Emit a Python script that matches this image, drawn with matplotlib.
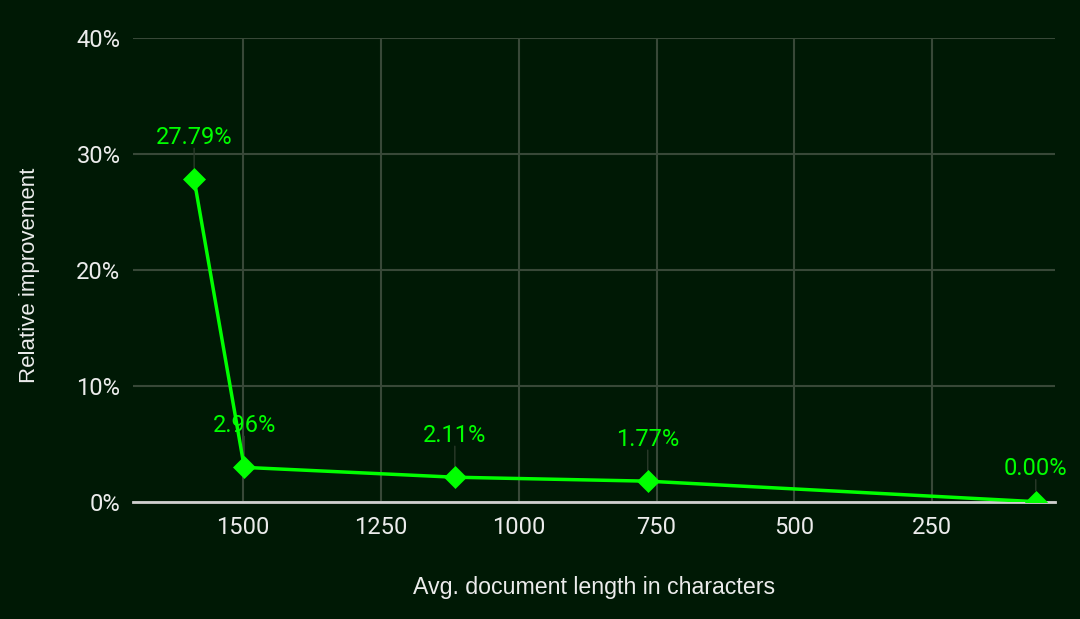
import matplotlib
matplotlib.use("Agg")
import matplotlib.pyplot as plt
from matplotlib.ticker import FuncFormatter

# Data
doc_length = [1589, 1498, 1116, 766, 62]
improvement = [27.79, 2.96, 2.11, 1.77, 0.00]
labels = ["27.79%", "2.96%", "2.11%", "1.77%", "0.00%"]
x_ticks = [1500, 1250, 1000, 750, 500, 250]
y_ticks = [0, 10, 20, 30, 40]

BG = "#001905"
GRID = "#384838"
LINE = "#00ff00"
TEXT = "#ececec"

fig = plt.figure(figsize=(10.8, 6.19), dpi=100, facecolor=BG)
ax = fig.add_axes([0.1231, 0.1895, 0.9769 - 0.1231, 0.9391 - 0.1895])
ax.set_facecolor(BG)

ax.set_xlim(1700, 27)
ax.set_ylim(0, 40)
ax.set_xticks(x_ticks)
ax.set_yticks(y_ticks)
ax.yaxis.set_major_formatter(FuncFormatter(lambda v, p: f"{int(v)}%"))

ax.grid(True, color=GRID, linewidth=1.5)
ax.set_axisbelow(True)
for s in ["top", "right", "left"]:
    ax.spines[s].set_visible(False)
ax.spines["bottom"].set_color("#d0d0d0")
ax.spines["bottom"].set_linewidth(2)
ax.spines["bottom"].set_zorder(4)

ax.tick_params(axis="both", length=0, colors=TEXT, labelsize=17)
ax.tick_params(axis="y", pad=9)
ax.tick_params(axis="x", pad=10)
for lab in ax.get_xticklabels() + ax.get_yticklabels():
    lab.set_fontfamily("Roboto")

ax.plot(doc_length, improvement, color=LINE, linewidth=2.5, marker="D",
        markersize=11, markeredgecolor=LINE, markeredgewidth=0.5, zorder=5)

offsets = [42, 42, 42, 42, 33]
for x, y, lab, off in zip(doc_length, improvement, labels, offsets):
    ax.annotate(lab, xy=(x, y), xytext=(0, off * 0.72), textcoords="offset points",
                ha="center", va="center", color=LINE, fontsize=17,
                fontfamily="Roboto", annotation_clip=False, zorder=6)
    ax.annotate("", xy=(x, y), xytext=(0, (off - 11) * 0.72), textcoords="offset points",
                arrowprops=dict(arrowstyle="-", color="#2a3a2a", lw=1.0,
                                shrinkA=0, shrinkB=8),
                annotation_clip=False, zorder=4)

ax.set_xlabel("Avg. document length in characters", color=TEXT, fontsize=16.7,
              fontfamily="Liberation Sans", labelpad=27)
ax.set_ylabel("Relative improvement", color=TEXT, fontsize=16,
              fontfamily="Liberation Sans")
ax.yaxis.set_label_coords(-0.101, 0.4875)

fig.savefig("out.png", dpi=100, facecolor=BG)
